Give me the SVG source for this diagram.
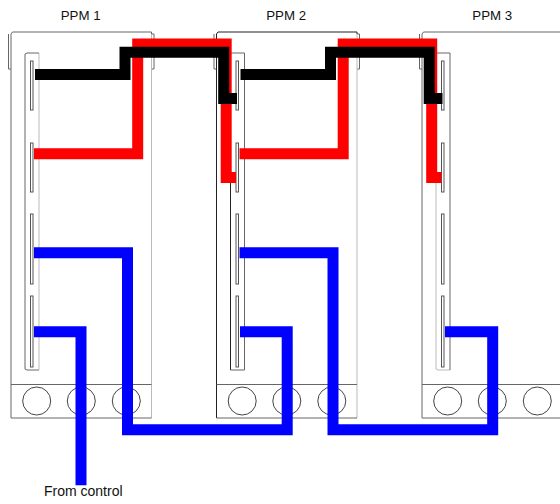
<svg xmlns="http://www.w3.org/2000/svg" width="560" height="504" viewBox="0 0 560 504">
<style>
.t{font-family:"Liberation Sans",Arial,sans-serif;font-size:13.3px;fill:#111}
.o{fill:none;stroke:#666;stroke-width:1}
.k{fill:none;stroke:#222;stroke-width:1}
.l{fill:none;stroke:#bbb;stroke-width:1}
.s{fill:#fff;stroke:#555;stroke-width:1}
.c{fill:#fff;stroke:#444;stroke-width:1}
.w{fill:none;stroke-width:11;stroke-linejoin:miter;stroke-linecap:butt}
</style>
<rect width="560" height="504" fill="#fff"/>
<g id="ppm1">
<path class="o" d="M8.5 34V69H11M151.5 34H154V69H151.5"/>
<path class="o" d="M11 418V34L12.500 32H151.500V34"/>
<path class="l" d="M151.500 34V418"/>
<path class="o" d="M11 384.500H151.500M11 418H151.500"/>
<path class="o" d="M39 53H27L25 54V369L27 370H39"/>
<path class="l" d="M39 53V370"/>
<rect class="s" x="30.500" y="61" width="2.500" height="49"/>
<rect class="s" x="30.500" y="143" width="2.500" height="49"/>
<rect class="s" x="30.500" y="214" width="2.500" height="70"/>
<rect class="s" x="30.500" y="296" width="2.500" height="71"/>
<circle class="c" cx="36.700" cy="401" r="14"/>
<circle class="c" cx="81.300" cy="401" r="14"/>
<circle class="c" cx="126.300" cy="401" r="14"/>
<text class="t" x="80.700" y="20" text-anchor="middle">PPM 1</text>
</g>
<g id="ppm2">
<path class="o" d="M214 34V69H216.500M357 34H359.500V69H357"/>
<path class="k" d="M216.500 418V34L218 32H357V34"/>
<path class="l" d="M357 34V418"/>
<path class="o" d="M216.500 384.500H357M216.500 418H357"/>
<path class="k" d="M230.500 370V54"/>
<path class="o" d="M230.500 53H244.500V370H230.500"/>
<rect class="s" x="236" y="61" width="2.500" height="49"/>
<rect class="s" x="236" y="143" width="2.500" height="49"/>
<rect class="s" x="236" y="214" width="2.500" height="70"/>
<rect class="s" x="236" y="296" width="2.500" height="71"/>
<circle class="c" cx="242.200" cy="401" r="14"/>
<circle class="c" cx="286.800" cy="401" r="14"/>
<circle class="c" cx="331.800" cy="401" r="14"/>
<text class="t" x="286.200" y="20" text-anchor="middle">PPM 2</text>
</g>
<g id="ppm3">
<path class="o" d="M419.500 34V69H422M422 418V34L423.500 32H560"/>
<path class="o" d="M422 384.500H560M422 418H560"/>
<path class="l" d="M436 54V369L438 370H450"/>
<path class="o" d="M436 53H450V370"/>
<rect class="s" x="441.500" y="61" width="2.500" height="49"/>
<rect class="s" x="441.500" y="143" width="2.500" height="49"/>
<rect class="s" x="441.500" y="214" width="2.500" height="70"/>
<rect class="s" x="441.500" y="296" width="2.500" height="71"/>
<circle class="c" cx="447.700" cy="401" r="14"/>
<circle class="c" cx="492.300" cy="401" r="14"/>
<circle class="c" cx="537.300" cy="401" r="14"/>
<text class="t" x="492.300" y="20" text-anchor="middle">PPM 3</text>
</g>
<g id="connectors">
<path class="w" stroke="#f00" d="M34 153.700H137.700V44H226.200V177.500H236"/>
<path class="w" stroke="#f00" d="M239.500 153.700H343.200V44H431.700V177.500H441.500"/>
<path class="w" stroke="#000" d="M35 74.500H125V52.300H223.700V98.500H237"/>
<path class="w" stroke="#000" d="M240.500 74.500H330.500V52.300H429.200V98.500H442.500"/>
<path class="w" stroke="#00f" d="M34 252.700H127.500V429.700H287.200V331.700H240"/>
<path class="w" stroke="#00f" d="M239.500 252.700H333V429.700H492.700V331.700H445"/>
<path class="w" stroke="#00f" d="M34 331.700H81V485.300"/>
</g>
<text class="t" x="44" y="496" style="font-size:14px">From control</text>
</svg>
